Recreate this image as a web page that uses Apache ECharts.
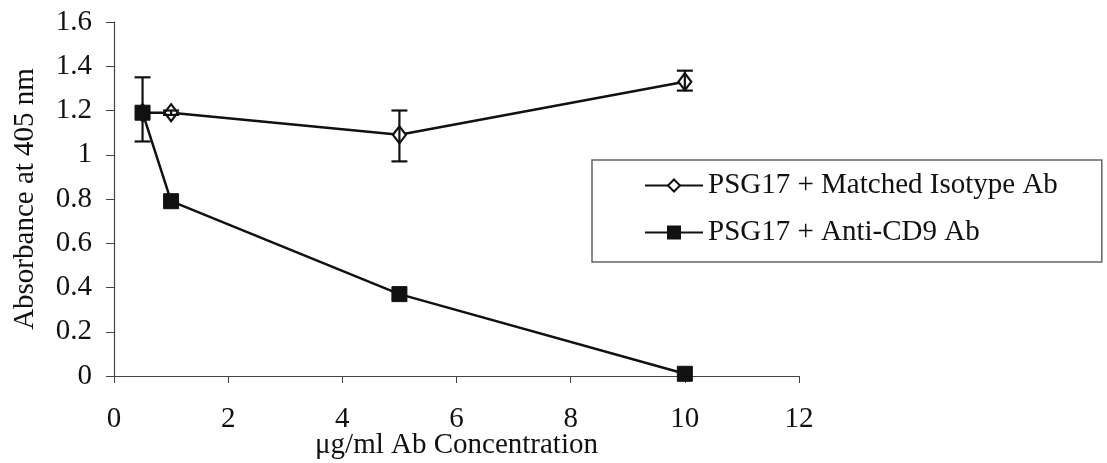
<!DOCTYPE html>
<html>
<head>
<meta charset="utf-8">
<script src="https://cdn.jsdelivr.net/npm/echarts@6/dist/echarts.min.js"></script>
<style>html,body{margin:0;padding:0;background:#fff}#c{width:1107px;height:463px}</style>
</head>
<body>
<div id="c"></div>
<script>
// Data
const isoX = [0.5, 1, 5, 10];
const isoY = [1.19, 1.19, 1.09, 1.33];
const isoLow = [null, 1.18, 0.97, 1.29];
const isoHigh = [null, 1.20, 1.20, 1.38];

const cd9X = [0.5, 1, 5, 10];
const cd9Y = [1.19, 0.79, 0.37, 0.01];
const cd9Low = [1.06, null, null, null];
const cd9High = [1.35, null, null, null];

const xTicks = [0, 2, 4, 6, 8, 10, 12];
const yTicks = [0, 0.2, 0.4, 0.6, 0.8, 1, 1.2, 1.4, 1.6];

const seriesNames = ['PSG17 + Matched Isotype Ab', 'PSG17 + Anti-CD9 Ab'];

const FONT = '"Liberation Serif", "DejaVu Serif", serif';
const INK = '#111';
const FS = 29;

function pts(xs, ys) { return xs.map((x, i) => [x, ys[i]]); }
function errs(xs, lo, hi) {
  const out = [];
  xs.forEach((x, i) => { if (lo[i] != null && hi[i] != null) out.push([x, lo[i], hi[i]]); });
  return out;
}
function errRender(params, api) {
  const x = api.value(0), lo = api.value(1), hi = api.value(2);
  const a = api.coord([x, hi]), b = api.coord([x, lo]);
  const w = 8;
  const st = { stroke: INK, lineWidth: 2.2 };
  return {
    type: 'group',
    children: [
      { type: 'line', shape: { x1: a[0], y1: a[1], x2: b[0], y2: b[1] }, style: st },
      { type: 'line', shape: { x1: a[0] - w, y1: a[1], x2: a[0] + w, y2: a[1] }, style: st },
      { type: 'line', shape: { x1: b[0] - w, y1: b[1], x2: b[0] + w, y2: b[1] }, style: st }
    ]
  };
}

const chart = echarts.init(document.getElementById('c'));
chart.setOption({
  animation: false,
  backgroundColor: '#fff',
  textStyle: { fontFamily: FONT, color: INK },
  grid: { left: 114, right: 308, top: 22, bottom: 87, containLabel: false, outerBoundsMode: 'none' },
  xAxis: {
    type: 'value', min: xTicks[0], max: xTicks[xTicks.length - 1], interval: 2,
    name: 'μg/ml Ab Concentration', nameLocation: 'middle', nameGap: 55, nameMoveOverlap: false,
    nameTextStyle: { fontFamily: FONT, fontSize: FS, color: INK },
    axisLine: { lineStyle: { color: '#444', width: 1.2 } },
    axisTick: { show: true, length: 7, lineStyle: { color: '#444' } },
    axisLabel: { fontFamily: FONT, fontSize: FS, color: INK, margin: 29 },
    splitLine: { show: false }
  },
  yAxis: {
    type: 'value', min: yTicks[0], max: yTicks[yTicks.length - 1], interval: 0.2,
    name: 'Absorbance at 405 nm', nameLocation: 'middle', nameGap: 74, nameRotate: 90, nameMoveOverlap: false,
    nameTextStyle: { fontFamily: FONT, fontSize: FS, color: INK },
    axisLine: { show: true, lineStyle: { color: '#444', width: 1.2 } },
    axisTick: { show: true, length: 8, lineStyle: { color: '#444' } },
    axisLabel: { fontFamily: FONT, fontSize: FS, color: INK, margin: 22 },
    splitLine: { show: false }
  },
  legend: {
    orient: 'vertical', left: 592, top: 160,
    padding: [11, 44, 15, 52],
    itemWidth: 58, itemHeight: 15, itemGap: 18,
    borderColor: '#666', borderWidth: 1.5, borderRadius: 0,
    backgroundColor: '#fff',
    textStyle: { fontFamily: FONT, fontSize: FS, color: INK },
    data: seriesNames
  },
  series: [
    {
      name: seriesNames[0], type: 'line', data: pts(isoX, isoY),
      symbol: 'diamond', symbolSize: [13, 17], showSymbol: true,
      lineStyle: { color: INK, width: 2.5 },
      itemStyle: { color: '#fff', borderColor: INK, borderWidth: 2.2 },
      z: 3
    },
    {
      name: seriesNames[1], type: 'line', data: pts(cd9X, cd9Y),
      symbol: 'rect', symbolSize: 15, showSymbol: true,
      lineStyle: { color: INK, width: 2.5 },
      itemStyle: { color: INK, borderColor: INK, borderWidth: 1 },
      z: 4
    },
    {
      type: 'custom', renderItem: errRender, data: errs(isoX, isoLow, isoHigh),
      encode: { x: 0, y: [1, 2] }, z: 5, silent: true
    },
    {
      type: 'custom', renderItem: errRender, data: errs(cd9X, cd9Low, cd9High),
      encode: { x: 0, y: [1, 2] }, z: 5, silent: true
    }
  ]
});
</script>
</body>
</html>
